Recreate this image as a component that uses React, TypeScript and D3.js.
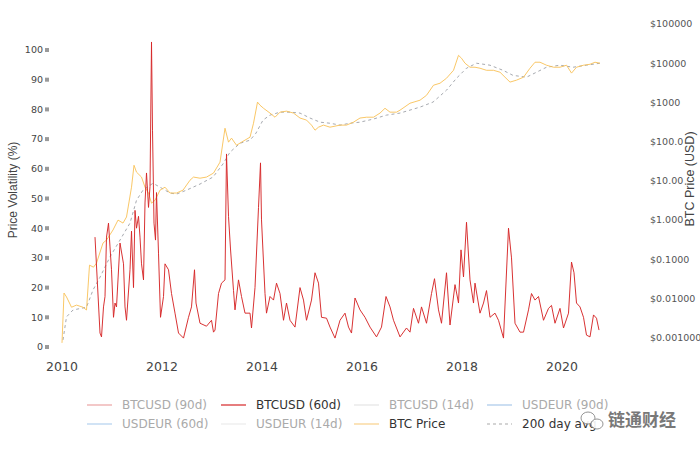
import React from "react";
import * as d3 from "d3";

// ---- Data ----
const volDates = [
  2010.66, 2010.76, 2010.79, 2010.83, 2010.86, 2010.89, 2010.93, 2010.96, 2010.99, 2011.03,
  2011.06, 2011.09, 2011.16, 2011.23, 2011.26, 2011.29, 2011.36, 2011.39, 2011.43, 2011.46,
  2011.49, 2011.53, 2011.56, 2011.59, 2011.63, 2011.66, 2011.69, 2011.73, 2011.76, 2011.79,
  2011.81, 2011.84, 2011.87, 2011.89, 2011.93, 2011.97, 2012.03, 2012.06, 2012.13, 2012.19,
  2012.26, 2012.33, 2012.43, 2012.53, 2012.59, 2012.65, 2012.68, 2012.76, 2012.89, 2012.99,
  2013.03, 2013.06, 2013.13, 2013.19, 2013.26, 2013.29, 2013.33, 2013.37, 2013.43, 2013.46,
  2013.53, 2013.59, 2013.66, 2013.76, 2013.79, 2013.86, 2013.93, 2013.97, 2013.99, 2014.06,
  2014.09, 2014.16, 2014.23, 2014.29, 2014.36, 2014.43, 2014.49, 2014.56, 2014.66, 2014.76,
  2014.83, 2014.89, 2014.99, 2015.06, 2015.13, 2015.19, 2015.29, 2015.36, 2015.46, 2015.56,
  2015.66, 2015.73, 2015.79, 2015.86, 2015.96, 2016.06, 2016.16, 2016.29, 2016.39, 2016.48,
  2016.56, 2016.63, 2016.73, 2016.76, 2016.89, 2016.96, 2017.03, 2017.13, 2017.19, 2017.29,
  2017.39, 2017.45, 2017.53, 2017.59, 2017.69, 2017.76, 2017.86, 2017.93, 2017.98, 2018.03,
  2018.09, 2018.16, 2018.23, 2018.26, 2018.36, 2018.43, 2018.49, 2018.56, 2018.66, 2018.73,
  2018.83, 2018.93, 2018.99, 2019.06, 2019.16, 2019.23, 2019.33, 2019.39, 2019.46, 2019.53,
  2019.63, 2019.73, 2019.79, 2019.86, 2019.96, 2020.03, 2020.13, 2020.19, 2020.24, 2020.29,
  2020.36, 2020.43, 2020.49, 2020.56, 2020.63, 2020.69, 2020.74,
];
const volValues = [
  37, 4.7, 3.4, 13.5, 17, 37, 41.7, 33.7, 26, 10,
  14.8, 13.5, 35, 28, 13.5, 9, 26, 39, 20, 46,
  40, 44, 37, 28, 22.6, 48.5, 58.6, 47, 54, 102.7,
  73, 41.7, 36, 52, 31.6, 10, 17, 28, 26, 18,
  11.4, 4.7, 3, 10, 13.5, 26, 14.8, 8, 7, 9,
  5, 5.7, 18, 21.5, 22.6, 65, 44, 33, 19, 12.5,
  22.6, 17, 11.4, 11.4, 6.4, 20, 47, 62, 42.8, 18,
  11.4, 17, 15.8, 21.5, 18, 9, 14.8, 9, 6.7, 20,
  15.8, 9, 15.8, 25, 21.5, 10, 9.7, 6.7, 3, 9,
  11.4, 6.7, 4.7, 16.5, 12.5, 10, 6.7, 3.4, 6.7, 17,
  13.5, 9, 4.7, 3.4, 6.4, 5, 13, 8, 13.5, 8,
  18, 23, 12.5, 8, 25, 7.4, 21, 14.8, 32.7, 23.6,
  42, 22.6, 14.8, 21.5, 11.4, 14.8, 19, 10, 11.4, 9,
  3, 40, 30, 8, 5, 5, 12.5, 18, 15.8, 17,
  9, 13, 14, 8, 13, 6.4, 11.4, 28.6, 25, 14.8,
  13.5, 10, 4, 3.4, 10.8, 9.7, 5.7,
];

const priceDates = [
  2010.0, 2010.04, 2010.09, 2010.19, 2010.29, 2010.42, 2010.49, 2010.55, 2010.63, 2010.69,
  2010.82, 2010.89, 2011.02, 2011.12, 2011.22, 2011.29, 2011.39, 2011.44, 2011.49, 2011.59,
  2011.66, 2011.73, 2011.79, 2011.86, 2011.96, 2012.06, 2012.16, 2012.29, 2012.42, 2012.56,
  2012.63, 2012.76, 2012.89, 2013.03, 2013.16, 2013.26, 2013.33, 2013.39, 2013.49, 2013.59,
  2013.76, 2013.83, 2013.91, 2013.96, 2014.03, 2014.16, 2014.26, 2014.36, 2014.49, 2014.63,
  2014.76, 2014.89, 2014.99, 2015.06, 2015.13, 2015.23, 2015.36, 2015.56, 2015.69, 2015.83,
  2015.96, 2016.09, 2016.23, 2016.36, 2016.46, 2016.56, 2016.69, 2016.76, 2016.96, 2017.16,
  2017.29, 2017.43, 2017.56, 2017.69, 2017.83, 2017.93, 2017.99, 2018.06, 2018.16, 2018.26,
  2018.36, 2018.49, 2018.63, 2018.76, 2018.86, 2018.96, 2019.09, 2019.23, 2019.36, 2019.46,
  2019.56, 2019.69, 2019.83, 2019.96, 2020.09, 2020.19, 2020.29, 2020.43, 2020.56, 2020.66,
  2020.76,
];
const priceValues = [
  0.00074, 0.0138, 0.011, 0.006, 0.0068, 0.006, 0.0051, 0.071, 0.063, 0.08,
  0.26, 0.31, 0.56, 1.0, 0.84, 1.2, 6.9, 25, 16.7, 12.5,
  6.9, 4.9, 2.7, 3.2, 5.8, 6.9, 4.9, 4.9, 5.8, 10.4,
  12.5, 11.7, 12.5, 15.8, 30, 220, 97, 123, 81, 97,
  130, 295, 1020, 850, 710, 535, 420, 565, 600, 535,
  400, 355, 264, 196, 234, 264, 234, 264, 264, 314,
  400, 420, 420, 535, 710, 565, 565, 635, 955, 1140,
  1520, 2750, 3090, 4140, 6600, 15900, 13400, 10000, 7900, 7900,
  7450, 6600, 6600, 5900, 4400, 3300, 3700, 4400, 7450, 10600,
  10600, 8900, 7900, 7900, 8900, 5600, 7900, 8900, 9400, 10600,
  10000,
];

const avgDates = [
  2010.02, 2010.09, 2010.22, 2010.49, 2010.62, 2010.76, 2010.96, 2011.16, 2011.36, 2011.49,
  2011.62, 2011.82, 2011.96, 2012.16, 2012.29, 2012.49, 2012.76, 2013.02, 2013.22, 2013.36,
  2013.56, 2013.76, 2013.88, 2014.02, 2014.16, 2014.36, 2014.56, 2014.76, 2014.96, 2015.16,
  2015.36, 2015.56, 2015.76, 2015.96, 2016.22, 2016.49, 2016.76, 2017.16, 2017.42, 2017.69,
  2017.89, 2018.09, 2018.29, 2018.56, 2018.82, 2019.02, 2019.29, 2019.49, 2019.69, 2019.96,
  2020.22, 2020.49, 2020.76,
];
const avgValues = [
  0.00088, 0.0034, 0.0051, 0.006, 0.0165, 0.035, 0.115, 0.31, 0.84, 3.2,
  5.8, 8.7, 6.9, 4.9, 4.6, 5.8, 8.3, 12.5, 27, 54,
  91, 109, 165, 355, 475, 565, 565, 535, 400, 314,
  295, 264, 295, 314, 375, 475, 535, 760, 1020, 2050,
  4140, 7450, 10000, 8900, 6600, 4900, 4400, 5900, 7900, 8900,
  7900, 8900, 10000,
];

const xTickYears = [2010, 2012, 2014, 2016, 2018, 2020];
const leftTicks = [0, 10, 20, 30, 40, 50, 60, 70, 80, 90, 100];
const rightTickValues = [0.001, 0.01, 0.1, 1, 10, 100, 1000, 10000, 100000];
const rightTickLabels = ["$0.001000", "$0.01000", "$0.1000", "$1.000", "$10.00", "$100.0", "$1000", "$10000", "$100000"];

const legendNames = [
  "BTCUSD (90d)", "BTCUSD (60d)", "BTCUSD (14d)", "USDEUR (90d)",
  "USDEUR (60d)", "USDEUR (14d)", "BTC Price", "200 day avg",
];
const legendVisible = [false, true, false, false, false, false, true, true];

// ---- Styles ----
const legendColors = ["#eba3a3", "#d62728", "#e4e4e4", "#a9c9ea", "#b3d0ee", "#ececec", "#f9d08a", "#aaaaaa"];
const RED = "#d62728";
const ORANGE = "#f8c156";
const AVG = "#a7aab0";
const FONT = "'DejaVu Sans', Verdana, sans-serif";
const TFONT = "'Liberation Sans', Arial, sans-serif";

export default function App() {
  const W = 700, H = 450;
  const x = d3.scaleLinear().domain([2010, 2020]).range([62, 562]);
  const yL = d3.scaleLinear().domain([0, 100]).range([347, 50]);
  const yR = d3.scaleLog().domain([0.001, 100000]).range([337.75, 24]);

  const volLine = d3.line<number>()
    .x((_, i) => x(volDates[i]))
    .y((d) => yL(d));
  const priceLine = d3.line<number>()
    .x((_, i) => x(priceDates[i]))
    .y((d) => yR(d));
  const avgLine = d3.line<number>()
    .x((_, i) => x(avgDates[i]))
    .y((d) => yR(d));

  const legendX = [87, 221, 354, 487];
  const legendY = [405, 424];

  return (
    <svg width={W} height={H} style={{ position: "absolute", left: 0, top: 0, background: "#fff" }}>
      <rect x={0} y={0} width={W} height={H} fill="#fff" />

      {/* left axis */}
      {leftTicks.map((t) => (
        <g key={"l" + t}>
          <text x={43} y={yL(t)} dy="0.35em" textAnchor="end" fontSize={9.5} fontFamily={FONT} fill="#444">{t}</text>
          <rect x={45} y={yL(t) - 2} width={4} height={4} fill="#9a9a9a" />
        </g>
      ))}
      <text transform={`translate(17,190) rotate(-90)`} textAnchor="middle" fontSize={12} fontFamily={TFONT} fill="#444">
        Price Volatility (%)
      </text>

      {/* right axis */}
      {rightTickValues.map((v, i) => (
        <text key={"r" + i} x={650} y={yR(v)} dy="0.35em" textAnchor="start" fontSize={9.5} fontFamily={FONT} fill="#555">
          {rightTickLabels[i]}
        </text>
      ))}
      <text transform={`translate(694,179) rotate(-90)`} textAnchor="middle" fontSize={12.5} fontFamily={TFONT} fill="#444">
        BTC Price (USD)
      </text>

      {/* x axis */}
      {xTickYears.map((yr) => (
        <text key={"x" + yr} x={x(yr)} y={367} dy="0.35em" textAnchor="middle" fontSize={12.5} fontFamily={FONT} fill="#444">
          {yr}
        </text>
      ))}

      {/* series */}
      <path d={avgLine(avgValues) || ""} fill="none" stroke={AVG} strokeWidth={1} strokeDasharray="3,3" />
      <path d={priceLine(priceValues) || ""} fill="none" stroke={ORANGE} strokeWidth={1} strokeOpacity={0.9} />
      <path d={volLine(volValues) || ""} fill="none" stroke={RED} strokeWidth={1} strokeOpacity={0.95} />

      {/* legend */}
      {legendNames.map((name, i) => {
        const col = i % 4;
        const row = Math.floor(i / 4);
        const lx = legendX[col];
        const ly = legendY[row];
        return (
          <g key={"lg" + i}>
            <line x1={lx} x2={lx + 25} y1={ly} y2={ly} stroke={legendColors[i]} strokeWidth={1.2}
              strokeDasharray={i === 7 ? "3,3" : undefined} />
            <text x={lx + 35} y={ly} dy="0.35em" fontSize={12} fontFamily={FONT} fill={legendVisible[i] ? "#333" : "#aaa"}>
              {name}
            </text>
          </g>
        );
      })}

      {/* watermark */}
      <g opacity={0.9}>
        <ellipse cx={588} cy={418} rx={7} ry={6} fill="#fff" stroke="#8a8a8a" strokeWidth={1} />
        <ellipse cx={597} cy={424} rx={6} ry={5} fill="#fff" stroke="#8a8a8a" strokeWidth={1} />
        <text x={608} y={420} dy="0.35em" fontSize={17} fontFamily="'Noto Sans CJK SC', sans-serif" fill="#6a6a6a"
          stroke="#fff" strokeWidth={2.5} paintOrder="stroke" fontWeight={700}>
          链通财经
        </text>
      </g>
    </svg>
  );
}
